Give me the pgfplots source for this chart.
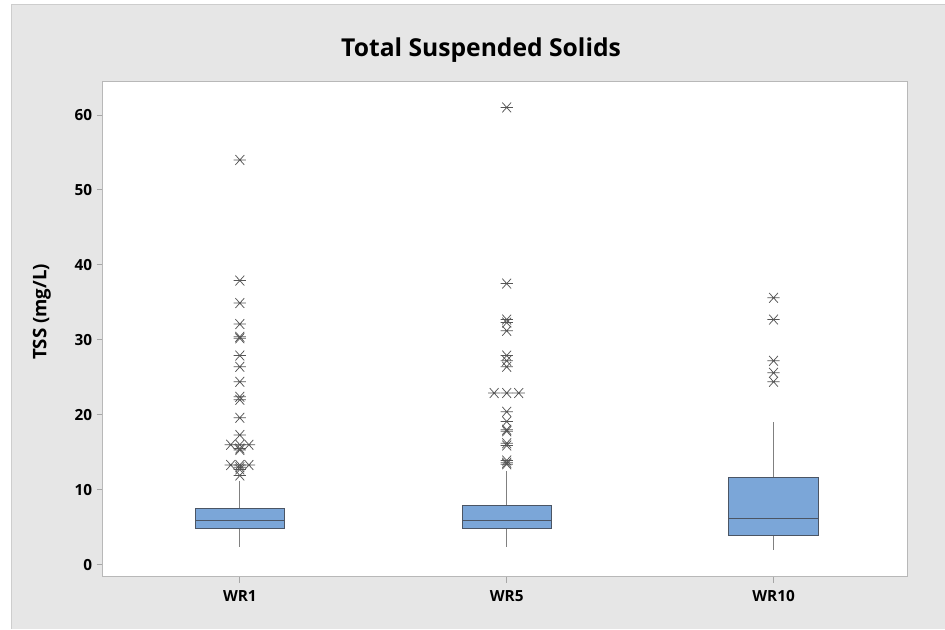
\documentclass[border=0pt]{standalone}
\usepackage{pgfplots}
\pgfplotsset{compat=1.18}
\usepgfplotslibrary{statistics}
\usepackage{fontspec}
\setmainfont{Open Sans}
\definecolor{bgray}{RGB}{230,230,230}
\definecolor{bedge}{RGB}{205,205,205}
\definecolor{boxblue}{RGB}{123,166,216}
\definecolor{boxedge}{RGB}{75,85,100}
\definecolor{whisk}{RGB}{128,128,128}
\definecolor{markc}{RGB}{85,85,85}
\pgfdeclareplotmark{mtbast}{%
  \pgfpathmoveto{\pgfqpoint{-\pgfplotmarksize}{0pt}}%
  \pgfpathlineto{\pgfqpoint{\pgfplotmarksize}{0pt}}%
  \pgfpathmoveto{\pgfqpoint{-0.72\pgfplotmarksize}{-0.8\pgfplotmarksize}}%
  \pgfpathlineto{\pgfqpoint{0.72\pgfplotmarksize}{0.8\pgfplotmarksize}}%
  \pgfpathmoveto{\pgfqpoint{-0.72\pgfplotmarksize}{0.8\pgfplotmarksize}}%
  \pgfpathlineto{\pgfqpoint{0.72\pgfplotmarksize}{-0.8\pgfplotmarksize}}%
  \pgfusepathqstroke}
\begin{document}
\begin{tikzpicture}
\fill[white] (0pt,0pt) rectangle (708.75pt,471.75pt);
\fill[bgray] (9pt,0pt) rectangle (708.75pt,468pt);
\draw[bedge,line width=0.75pt] (9pt,0pt) -- (9pt,468pt) -- (708.75pt,468pt);
\node[anchor=base,font=\fontsize{18.5}{20}\selectfont\bfseries] at (361pt,429pt) {Total Suspended Solids};
\begin{axis}[
  at={(77.25pt,39pt)}, anchor=south west,
  scale only axis, width=603.75pt, height=371.25pt,
  xmin=0.487, xmax=3.502, ymin=-1.6, ymax=64.4,
  axis background/.style={fill=white},
  axis line style={draw=black!28, line width=0.8pt},
  xtick={1,2,3}, xticklabels={WR1,WR5,WR10},
  ytick={0,10,20,30,40,50,60},
  tick align=outside, tick pos=left,
  major tick length=4.5pt,
  tick style={black!35, line width=0.6pt},
  /pgf/number format/assume math mode=true,
  ticklabel style={font=\fontsize{11.5}{13}\selectfont\bfseries},
  xticklabel style={yshift=-2pt},
  ylabel={TSS (mg/L)},
  ylabel style={font=\fontsize{14}{16}\selectfont\bfseries, at={(axis description cs:-0.076,0.535)}, anchor=center},
  boxplot/draw direction=y,
  boxplot/box extend=0.335,
  boxplot/whisker extend=0,
  boxplot/every box/.style={fill=boxblue, draw=boxedge, line width=0.75pt},
  boxplot/every median/.style={draw=boxedge, line width=0.75pt},
  boxplot/every whisker/.style={draw=whisk, line width=0.75pt},
  clip=false,
]
\addplot+[black, mark=none, boxplot prepared={lower whisker=2.4, lower quartile=4.8, median=5.87, upper quartile=7.47, upper whisker=11.1, draw position=1}] coordinates {};
\addplot+[black, mark=none, boxplot prepared={lower whisker=2.4, lower quartile=4.8, median=5.87, upper quartile=7.87, upper whisker=12.5, draw position=2}] coordinates {};
\addplot+[black, mark=none, boxplot prepared={lower whisker=2.0, lower quartile=3.87, median=6.1, upper quartile=11.6, upper whisker=19.1, draw position=3}] coordinates {};
% outliers WR1
\addplot[only marks, mark=mtbast, mark size=4.6pt, mark options={draw=markc, line width=0.55pt}] coordinates {
(1,54.0) (1,37.9) (1,34.9) (1,32.1) (1,30.2) (1,30.4) (1,27.9) (1,26.4) (1,24.4)
(1,22.4) (1,22.0) (1,19.6) (1,17.3)
(0.966,16.0) (1,16.0) (1.034,16.0) (1,15.5) (1,15.3)
(0.966,13.3) (1,13.3) (1.034,13.3) (1,13.0) (1,12.7) (1,11.9)
};
% outliers WR5
\addplot[only marks, mark=mtbast, mark size=4.6pt, mark options={draw=markc, line width=0.55pt}] coordinates {
(2,61.0) (2,37.5) (2,32.7) (2,32.3) (2,31.2) (2,27.9) (2,27.2) (2,26.4)
(1.953,22.9) (2,22.9) (2.045,22.9)
(2,20.4) (2,19.1) (2,18.0) (2,17.8) (2,16.2) (2,15.9) (2,13.9) (2,13.6) (2,13.4)
};
% outliers WR10
\addplot[only marks, mark=mtbast, mark size=4.6pt, mark options={draw=markc, line width=0.55pt}] coordinates {
(3,35.6) (3,32.7) (3,27.2) (3,25.6) (3,24.4)
};
\end{axis}
\end{tikzpicture}
\end{document}
